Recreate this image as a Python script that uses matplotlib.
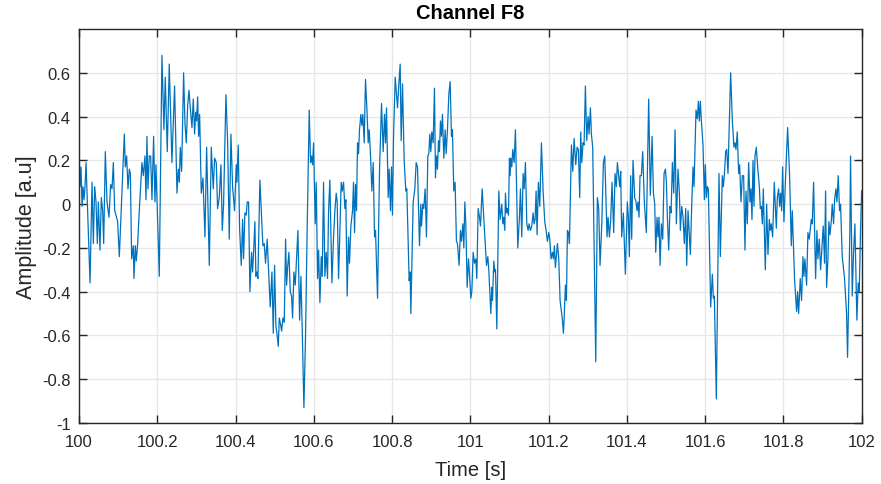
import numpy as np
import matplotlib.pyplot as plt

# EEG trace for channel F8, (time offset from 100 s, amplitude) pairs
seg_a = [(0.0000, 0.25), (0.0026, 0.08), (0.0051, 0.17), (0.0077, -0.01), (0.0102, 0.08),
         (0.0128, 0.02), (0.0153, 0.08), (0.0179, 0.19), (0.0238, -0.12), (0.0281, -0.36),
         (0.0332, 0.10), (0.0366, -0.18), (0.0400, 0.08), (0.0434, 0.01), (0.0468, -0.18),
         (0.0494, 0.01), (0.0536, -0.21), (0.0570, 0.03), (0.0604, -0.03), (0.0630, -0.18),
         (0.0672, 0.24), (0.0715, 0.01), (0.0766, -0.06), (0.0808, 0.09), (0.0843, 0.07),
         (0.0877, 0.19), (0.0911, -0.03), (0.0945, -0.05), (0.0987, -0.08), (0.1030, -0.24),
         (0.1157, 0.32), (0.1183, 0.17), (0.1217, 0.22), (0.1251, 0.07), (0.1285, 0.16),
         (0.1311, 0.14), (0.1345, -0.25), (0.1387, -0.19), (0.1404, -0.34), (0.1438, -0.19),
         (0.1464, -0.26), (0.1498, -0.18), (0.1540, -0.03), (0.1608, 0.19), (0.1642, 0.13),
         (0.1685, 0.22), (0.1711, 0.02), (0.1736, 0.31), (0.1762, 0.07), (0.1796, 0.22),
         (0.1830, 0.22), (0.1864, 0.02), (0.1906, 0.31), (0.1940, 0.01), (0.1966, 0.18),
         (0.2051, -0.33), (0.2119, 0.68), (0.2170, 0.34), (0.2204, 0.58), (0.2255, 0.24),
         (0.2306, 0.64), (0.2374, 0.19), (0.2442, 0.54)]

seg_b = [(0.2503, 0.05), (0.2537, 0.16), (0.2563, 0.10), (0.2588, 0.26), (0.2622, 0.15),
         (0.2673, 0.60), (0.2707, 0.37), (0.2741, 0.28), (0.2776, 0.45), (0.2810, 0.52),
         (0.2844, 0.44), (0.2886, 0.35), (0.2920, 0.48), (0.2954, 0.32), (0.2980, 0.42),
         (0.3005, 0.38), (0.3031, 0.49), (0.3056, 0.31), (0.3082, 0.41), (0.3124, 0.05),
         (0.3167, 0.12), (0.3218, -0.15), (0.3261, 0.26), (0.3329, -0.28), (0.3380, 0.26),
         (0.3431, 0.07), (0.3465, 0.21), (0.3507, 0.19), (0.3541, -0.02), (0.3584, 0.03),
         (0.3627, 0.18), (0.3661, -0.12), (0.3694, 0.00), (0.3754, 0.50), (0.3797, 0.29),
         (0.3839, -0.16), (0.3882, 0.32), (0.3924, 0.08), (0.3975, -0.03), (0.4018, 0.18),
         (0.4035, 0.10), (0.4069, 0.27), (0.4103, -0.11), (0.4146, -0.28), (0.4180, -0.07),
         (0.4205, -0.25), (0.4239, -0.04), (0.4273, -0.05), (0.4299, 0.01), (0.4333, 0.01),
         (0.4367, -0.40), (0.4409, -0.22), (0.4435, -0.31), (0.4469, -0.19), (0.4494, -0.08),
         (0.4520, -0.33), (0.4546, -0.31), (0.4571, -0.34), (0.4622, 0.11), (0.4699, -0.19),
         (0.4733, -0.18), (0.4767, -0.27), (0.4809, -0.16), (0.4886, -0.47)]

seg_c = [(0.4930, -0.31), (0.4964, -0.59), (0.4998, -0.28), (0.5032, -0.56), (0.5058, -0.59),
         (0.5092, -0.65), (0.5117, -0.52), (0.5151, -0.55), (0.5177, -0.58), (0.5211, -0.52),
         (0.5245, -0.54), (0.5279, -0.16), (0.5305, -0.37), (0.5330, -0.29), (0.5364, -0.22),
         (0.5398, -0.40), (0.5432, -0.42), (0.5458, -0.52), (0.5492, -0.31), (0.5526, -0.37),
         (0.5594, -0.12), (0.5637, -0.53), (0.5671, -0.33), (0.5705, -0.58), (0.5747, -0.93),
         (0.5790, -0.59), (0.5824, -0.18), (0.5883, 0.43), (0.5917, 0.19), (0.5943, 0.22),
         (0.5968, 0.18), (0.5994, 0.28), (0.6036, -0.09), (0.6062, 0.10), (0.6096, -0.34),
         (0.6122, -0.21), (0.6156, -0.45), (0.6190, -0.24), (0.6215, -0.33), (0.6249, 0.10),
         (0.6283, -0.33), (0.6317, -0.22), (0.6351, -0.34), (0.6377, -0.03), (0.6411, 0.11),
         (0.6462, -0.36), (0.6505, -0.15), (0.6539, -0.03), (0.6573, 0.05), (0.6598, 0.01),
         (0.6632, -0.34), (0.6666, -0.13), (0.6700, 0.10), (0.6726, 0.06), (0.6760, 0.10),
         (0.6794, -0.02), (0.6819, 0.02), (0.6853, -0.42), (0.6887, -0.15), (0.6913, -0.27),
         (0.6947, -0.10), (0.6990, -0.03), (0.7015, 0.10), (0.7041, -0.13), (0.7066, 0.09),
         (0.7092, -0.03), (0.7117, 0.28), (0.7143, 0.23), (0.7168, 0.34), (0.7202, 0.41),
         (0.7228, 0.36), (0.7254, 0.41), (0.7288, 0.28), (0.7321, 0.57)]

seg_d = [(0.7356, 0.44), (0.7390, 0.28), (0.7416, 0.34), (0.7450, 0.22), (0.7484, 0.06),
         (0.7518, 0.19), (0.7552, -0.15), (0.7577, -0.12), (0.7629, -0.43), (0.7680, 0.16),
         (0.7731, 0.46), (0.7773, 0.24), (0.7807, 0.41), (0.7833, 0.28), (0.7858, 0.44),
         (0.7901, 0.03), (0.7926, 0.16), (0.7960, -0.03), (0.7986, 0.17), (0.8011, -0.05),
         (0.8037, 0.30), (0.8080, 0.58), (0.8105, 0.52), (0.8139, 0.44), (0.8173, 0.55),
         (0.8207, 0.64), (0.8233, 0.29), (0.8267, 0.55), (0.8309, 0.20), (0.8352, 0.06),
         (0.8377, 0.07), (0.8437, -0.35), (0.8462, -0.31), (0.8480, -0.50), (0.8539, 0.01),
         (0.8582, 0.07), (0.8616, 0.19), (0.8650, 0.17), (0.8701, -0.19), (0.8735, 0.00),
         (0.8752, -0.10), (0.8786, 0.00), (0.8811, -0.02), (0.8845, 0.07), (0.8879, -0.15),
         (0.8914, 0.22), (0.8939, 0.23), (0.8965, 0.32), (0.8990, 0.24), (0.9016, 0.33),
         (0.9050, 0.28), (0.9084, 0.53), (0.9109, 0.12), (0.9135, 0.22), (0.9160, 0.16),
         (0.9186, 0.29), (0.9211, 0.24), (0.9237, 0.38), (0.9262, 0.31), (0.9288, 0.41),
         (0.9322, 0.21), (0.9356, 0.34), (0.9382, 0.23), (0.9416, 0.34), (0.9450, 0.50),
         (0.9484, 0.56), (0.9518, 0.31), (0.9543, 0.34), (0.9577, 0.06), (0.9611, 0.10),
         (0.9645, -0.17), (0.9671, -0.18), (0.9713, -0.28), (0.9747, -0.12)]

seg_e = [(0.9775, -0.17), (0.9809, -0.09), (0.9834, -0.20), (0.9860, 0.01), (0.9885, -0.09),
         (0.9919, -0.38), (0.9953, -0.25), (0.9979, -0.32), (1.0013, -0.43), (1.0038, -0.40),
         (1.0073, -0.22), (1.0107, -0.27), (1.0141, -0.25), (1.0166, -0.34), (1.0200, -0.02),
         (1.0234, -0.06), (1.0260, -0.10), (1.0302, 0.07), (1.0362, -0.12), (1.0413, -0.28),
         (1.0447, -0.24), (1.0472, -0.30), (1.0524, -0.50), (1.0549, -0.38), (1.0566, -0.44),
         (1.0600, -0.26), (1.0626, -0.31), (1.0643, -0.30), (1.0677, -0.57), (1.0728, 0.06),
         (1.0762, -0.07), (1.0804, 0.00), (1.0830, -0.09), (1.0855, -0.06), (1.0881, -0.12),
         (1.0898, 0.05), (1.0924, -0.04), (1.0949, -0.02), (1.0975, -0.05), (1.1000, 0.21),
         (1.1017, 0.13), (1.1034, 0.21), (1.1060, 0.17), (1.1085, 0.25), (1.1119, 0.19),
         (1.1153, 0.34), (1.1213, -0.20), (1.1255, -0.06), (1.1281, 0.07), (1.1315, -0.15),
         (1.1349, 0.14), (1.1375, 0.07), (1.1409, 0.19), (1.1443, -0.09), (1.1477, -0.12),
         (1.1502, -0.09), (1.1536, -0.12), (1.1570, -0.10), (1.1604, -0.04), (1.1630, -0.09),
         (1.1655, -0.07), (1.1681, 0.06), (1.1706, -0.14), (1.1740, 0.10), (1.1775, -0.01),
         (1.1817, 0.28), (1.1860, 0.06), (1.1902, -0.08), (1.1936, -0.12), (1.1970, -0.17),
         (1.2004, -0.13), (1.2030, -0.16), (1.2064, -0.25), (1.2098, -0.22), (1.2123, -0.25),
         (1.2149, -0.19), (1.2174, -0.29)]

seg_f = [(1.2226, -0.18), (1.2260, -0.25), (1.2294, -0.44), (1.2328, -0.49), (1.2354, -0.53),
         (1.2379, -0.59), (1.2396, -0.53), (1.2430, -0.37), (1.2456, -0.44), (1.2482, -0.12),
         (1.2507, -0.13), (1.2533, -0.18), (1.2584, 0.27), (1.2618, 0.15), (1.2652, 0.30),
         (1.2694, 0.18), (1.2728, 0.26), (1.2762, 0.25), (1.2796, 0.03), (1.2822, 0.33),
         (1.2847, 0.19), (1.2881, 0.28), (1.2907, 0.27), (1.2941, 0.54), (1.2975, 0.29),
         (1.3009, 0.40), (1.3035, 0.32), (1.3069, 0.44), (1.3094, 0.32), (1.3128, 0.26),
         (1.3205, -0.72), (1.3247, 0.03), (1.3281, -0.02), (1.3315, -0.28), (1.3358, -0.10),
         (1.3401, 0.19), (1.3435, 0.22), (1.3460, 0.07), (1.3494, -0.15), (1.3520, -0.06),
         (1.3554, -0.15), (1.3588, -0.07), (1.3622, 0.10), (1.3664, -0.13), (1.3698, 0.14),
         (1.3732, 0.08), (1.3758, 0.19), (1.3784, 0.14), (1.3818, 0.08), (1.3843, 0.15),
         (1.3869, -0.15), (1.3911, -0.04), (1.3962, -0.32), (1.4013, 0.01), (1.4039, -0.06),
         (1.4064, -0.24), (1.4098, 0.13), (1.4124, -0.16), (1.4158, 0.20), (1.4201, 0.03),
         (1.4235, 0.01), (1.4260, -0.03), (1.4286, 0.01), (1.4311, -0.06), (1.4337, 0.13),
         (1.4371, 0.13), (1.4405, 0.24), (1.4447, 0.01), (1.4498, -0.13), (1.4558, 0.48),
         (1.4600, 0.04)]

seg_g = [(1.4645, 0.31), (1.4679, 0.05), (1.4713, 0.00), (1.4738, -0.22), (1.4772, -0.06),
         (1.4798, -0.15), (1.4823, -0.06), (1.4849, -0.28), (1.4883, -0.09), (1.4917, -0.16),
         (1.4951, 0.14), (1.4985, 0.16), (1.5011, 0.10), (1.5036, -0.06), (1.5070, -0.21),
         (1.5104, -0.01), (1.5130, -0.04), (1.5164, 0.19), (1.5198, 0.05), (1.5232, 0.34),
         (1.5266, -0.09), (1.5308, 0.16), (1.5343, 0.05), (1.5368, -0.12), (1.5402, -0.01),
         (1.5436, -0.06), (1.5470, -0.18), (1.5504, -0.02), (1.5530, -0.28), (1.5564, -0.03),
         (1.5598, -0.15), (1.5623, -0.23), (1.5657, -0.01), (1.5691, 0.17), (1.5717, 0.08),
         (1.5768, 0.43), (1.5802, 0.39), (1.5828, 0.47), (1.5853, 0.38), (1.5879, 0.47),
         (1.5904, 0.38), (1.5947, 0.27), (1.5981, 0.02), (1.6006, 0.18), (1.6032, 0.03),
         (1.6057, 0.08), (1.6083, 0.07), (1.6142, -0.47), (1.6185, -0.32), (1.6211, -0.43),
         (1.6236, -0.42), (1.6287, -0.89), (1.6355, 0.14), (1.6389, -0.24), (1.6440, 0.13),
         (1.6466, 0.08), (1.6491, 0.13), (1.6525, 0.24), (1.6551, 0.25), (1.6585, 0.14),
         (1.6653, 0.60), (1.6696, 0.38), (1.6738, 0.26), (1.6764, 0.28), (1.6789, 0.25),
         (1.6823, 0.33), (1.6857, 0.14), (1.6883, 0.18), (1.6917, 0.01), (1.6951, 0.13),
         (1.6985, 0.13), (1.7019, -0.21)]

seg_h = [(1.7045, 0.06), (1.7079, -0.09), (1.7113, 0.19), (1.7147, 0.01), (1.7173, 0.07),
         (1.7198, -0.07), (1.7224, 0.20), (1.7249, -0.01), (1.7275, 0.22), (1.7309, 0.26),
         (1.7343, 0.17), (1.7386, 0.08), (1.7411, -0.02), (1.7437, -0.01), (1.7462, -0.09),
         (1.7488, 0.07), (1.7539, -0.30), (1.7573, 0.00), (1.7607, -0.23), (1.7641, -0.07),
         (1.7666, -0.12), (1.7692, -0.09), (1.7726, -0.15), (1.7768, 0.10), (1.7820, -0.11),
         (1.7845, 0.03), (1.7879, 0.07), (1.7905, -0.01), (1.7930, 0.05), (1.7956, -0.03),
         (1.7981, 0.17), (1.8015, -0.08), (1.8049, 0.09), (1.8109, 0.35), (1.8160, 0.13),
         (1.8203, -0.19), (1.8228, -0.03), (1.8288, -0.35), (1.8339, -0.49), (1.8364, -0.40),
         (1.8390, -0.50), (1.8432, -0.34), (1.8466, -0.44), (1.8500, -0.24), (1.8526, -0.33),
         (1.8551, -0.25), (1.8594, -0.37), (1.8628, -0.13), (1.8662, -0.16), (1.8713, -0.07),
         (1.8739, -0.09), (1.8773, 0.10), (1.8824, -0.34), (1.8858, -0.12), (1.8883, -0.25),
         (1.8917, -0.16), (1.8951, -0.30), (1.8985, -0.20), (1.9019, -0.10), (1.9053, -0.27),
         (1.9079, 0.06), (1.9105, -0.38), (1.9139, -0.25), (1.9164, -0.08), (1.9190, -0.14),
         (1.9224, -0.08), (1.9249, 0.00), (1.9283, -0.09), (1.9309, 0.02), (1.9343, 0.07),
         (1.9368, 0.01), (1.9402, 0.13), (1.9436, -0.03), (1.9462, 0.00), (1.9505, -0.24),
         (1.9564, -0.34), (1.9615, -0.50), (1.9641, -0.70), (1.9700, -0.12), (1.9717, 0.22),
         (1.9760, -0.42), (1.9794, -0.22), (1.9828, -0.09), (1.9879, -0.53), (1.9913, -0.36),
         (1.9939, -0.40), (1.9973, -0.12), (2.0000, 0.06)]

t_start = 100.0
x_ticks = [100, 100.2, 100.4, 100.6, 100.8, 101, 101.2, 101.4, 101.6, 101.8, 102]
x_labels = ['100', '100.2', '100.4', '100.6', '100.8', '101', '101.2', '101.4', '101.6', '101.8', '102']
y_ticks = [-1, -0.8, -0.6, -0.4, -0.2, 0, 0.2, 0.4, 0.6]
y_labels = ['-1', '-0.8', '-0.6', '-0.4', '-0.2', '0', '0.2', '0.4', '0.6']

trace = np.array(seg_a + seg_b + seg_c + seg_d + seg_e + seg_f + seg_g + seg_h)
time = t_start + trace[:, 0]
amp = trace[:, 1]

plt.rcParams['font.family'] = ['Liberation Sans', 'DejaVu Sans']
text_col = '#262626'

fig = plt.figure(figsize=(8.81, 4.85), dpi=100)
ax = fig.add_axes([0.0897, 0.1258, 0.8883, 0.8122])

ax.plot(time, amp, color='#0072BD', linewidth=0.9)

ax.set_xlim(100, 102)
ax.set_ylim(-1, 0.8)
ax.set_xticks(x_ticks)
ax.set_xticklabels(x_labels)
ax.set_yticks(y_ticks)
ax.set_yticklabels(y_labels)

ax.grid(True, color='#e6e6e6', linewidth=0.9)
ax.set_axisbelow(True)
ax.tick_params(direction='in', length=6, width=1.0, top=True, right=True,
               labelsize=12, colors=text_col)
ax.tick_params(axis='x', pad=8)
ax.tick_params(axis='y', pad=6)
for sp in ax.spines.values():
    sp.set_color(text_col)
    sp.set_linewidth(1.0)

ax.set_title('Channel F8', fontsize=14.5, fontweight='bold', color='black', pad=8)
ax.set_xlabel('Time [s]', fontsize=14.5, color=text_col, labelpad=8)
ax.set_ylabel('Amplitude [a.u]', fontsize=15.5, color=text_col, labelpad=4)

fig.savefig('out.png', dpi=100)
